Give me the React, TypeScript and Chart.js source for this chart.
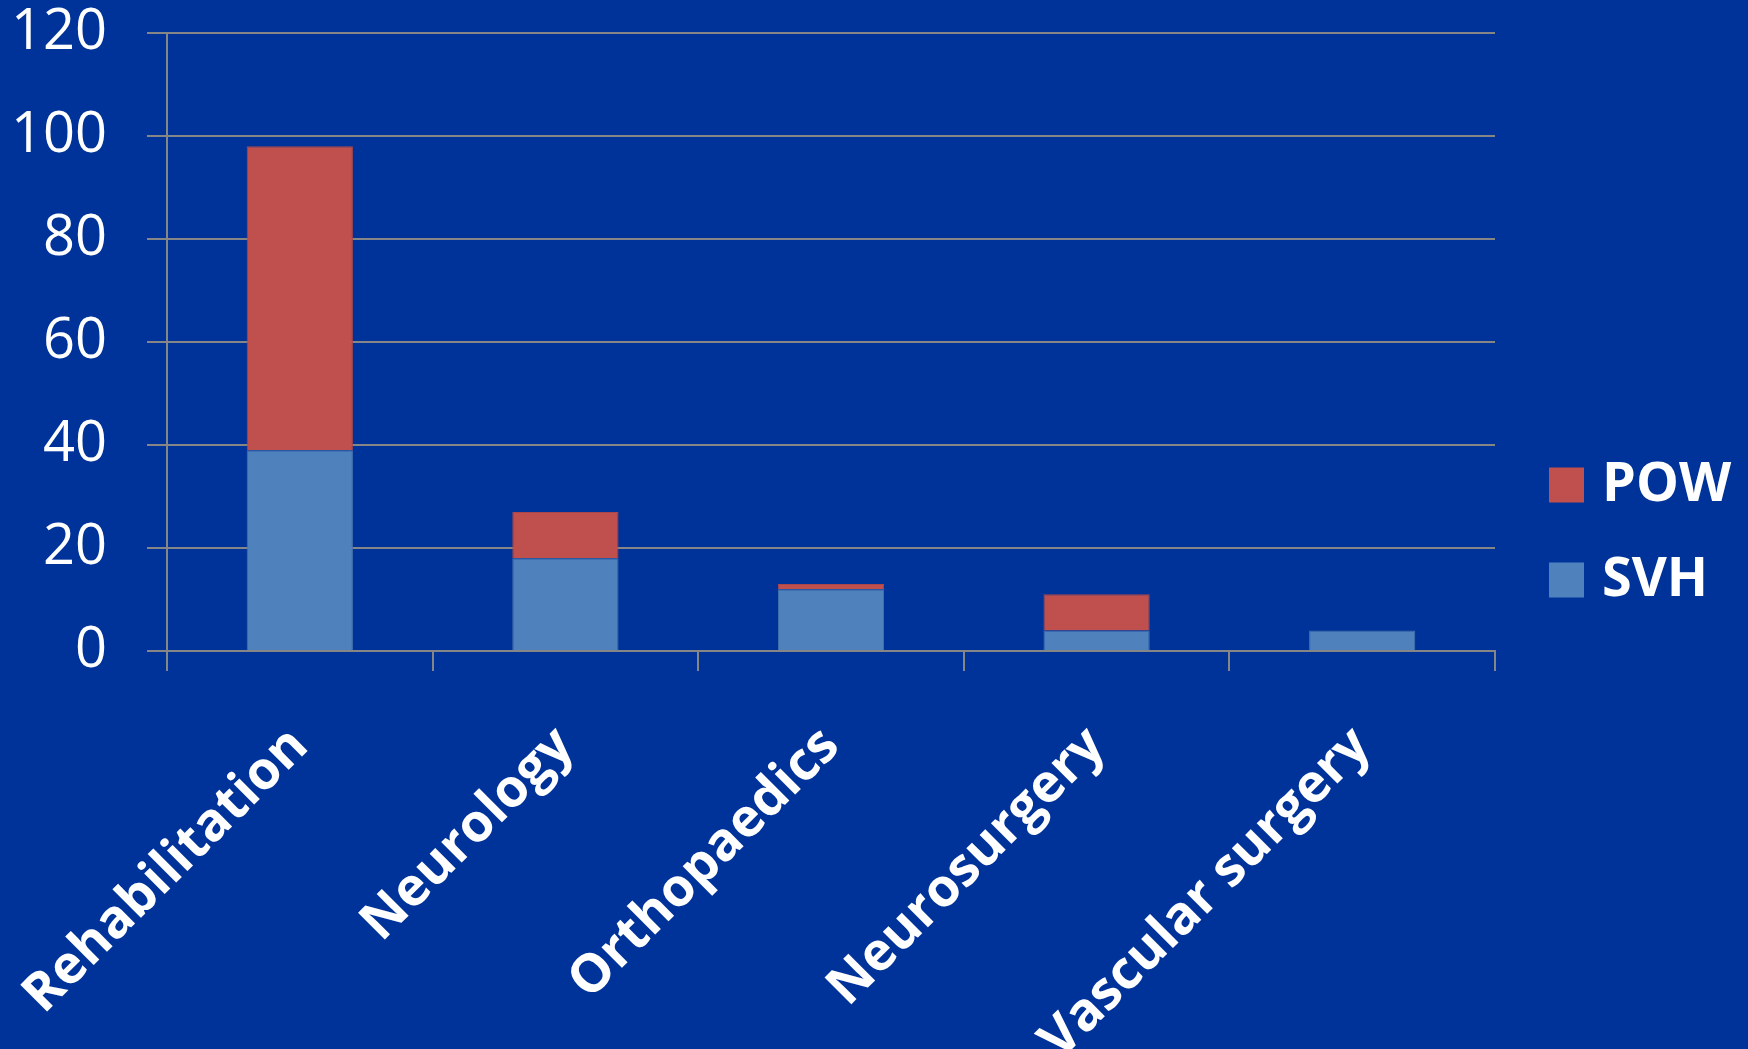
import { useEffect, useRef } from "react";
import { Chart, registerables } from "chart.js";

Chart.register(...registerables);

// Referrals by specialty, split by hospital
const categories = ["Rehabilitation", "Neurology", "Orthopaedics", "Neurosurgery", "Vascular surgery"];
const svhValues = [39, 18, 12, 4, 4];
const powValues = [59, 9, 1, 7, 0];
const yMin = 0;
const yMax = 120;
const yStep = 20;

const BG = "#003399";
const GRID = "#868686";
const RED = "#C0504D";
const BLUE = "#4F81BD";
const FONT = "'Open Sans', sans-serif";

// Legend on the right: square swatch followed by a bold label, top item = last dataset
const sideLegend = {
  id: "sideLegend",
  afterDraw(chart: any) {
    const { ctx, chartArea } = chart;
    const sets = [...chart.data.datasets].reverse();
    const box = 35;
    const step = 95;
    const x0 = chartArea.right + 54;
    const total = (sets.length - 1) * step + box;
    const y0 = chart.height / 2 + 8 - total / 2;
    ctx.save();
    ctx.font = `bold 54px ${FONT}`;
    ctx.textBaseline = "middle";
    ctx.textAlign = "left";
    sets.forEach((ds: any, i: number) => {
      const y = y0 + i * step;
      ctx.fillStyle = ds.backgroundColor;
      ctx.fillRect(x0, y, box, box);
      ctx.fillStyle = "#ffffff";
      ctx.fillText(ds.label, x0 + box + 18, y + box / 2 + 1);
    });
    ctx.restore();
  },
};

export default function App() {
  const canvasRef = useRef<HTMLCanvasElement | null>(null);

  useEffect(() => {
    const canvas = canvasRef.current;
    if (!canvas) return;
    const chart = new Chart(canvas, {
      type: "bar",
      data: {
        labels: categories,
        datasets: [
          {
            label: "SVH",
            data: svhValues,
            backgroundColor: BLUE,
            borderColor: "#4673ad",
            borderWidth: 1,
            barPercentage: 0.4,
            categoryPercentage: 1,
          },
          {
            label: "POW",
            data: powValues,
            backgroundColor: RED,
            borderColor: "#a9474a",
            borderWidth: 1,
            barPercentage: 0.4,
            categoryPercentage: 1,
          },
        ],
      },
      options: {
        responsive: false,
        animation: false,
        layout: { padding: { top: 0, right: 253, bottom: 0, left: 0 } },
        plugins: {
          tooltip: { enabled: false },
          legend: { display: false },
        },
        scales: {
          x: {
            stacked: true,
            afterFit: (scale: any) => {
              scale.height = 398;
              scale.paddingLeft = 0;
              scale.paddingRight = 0;
            },
            grid: {
              display: true,
              offset: true,
              drawOnChartArea: false,
              drawTicks: true,
              tickLength: 20,
              color: GRID,
              lineWidth: 2,
            },
            border: { display: true, color: GRID, width: 2 },
            ticks: {
              color: "#ffffff",
              autoSkip: false,
              minRotation: 45,
              maxRotation: 45,
              padding: 44,
              font: { family: FONT, size: 53, weight: "bold" },
            },
          },
          y: {
            stacked: true,
            min: yMin,
            max: yMax,
            afterFit: (scale: any) => {
              scale.width = 167;
              scale.paddingTop = 33;
              scale.paddingBottom = 0;
            },
            grid: {
              color: GRID,
              lineWidth: 2,
              tickLength: 20,
            },
            border: { display: true, color: GRID, width: 2 },
            ticks: {
              stepSize: yStep,
              color: "#ffffff",
              padding: 40,
              font: { family: FONT, size: 56 },
            },
          },
        },
      },
      plugins: [sideLegend],
    });
    return () => chart.destroy();
  }, []);

  return (
    <div style={{ position: "absolute", left: 0, top: 0, width: 1748, height: 1049, background: BG }}>
      <canvas ref={canvasRef} width={1748} height={1049} style={{ display: "block" }} />
    </div>
  );
}
